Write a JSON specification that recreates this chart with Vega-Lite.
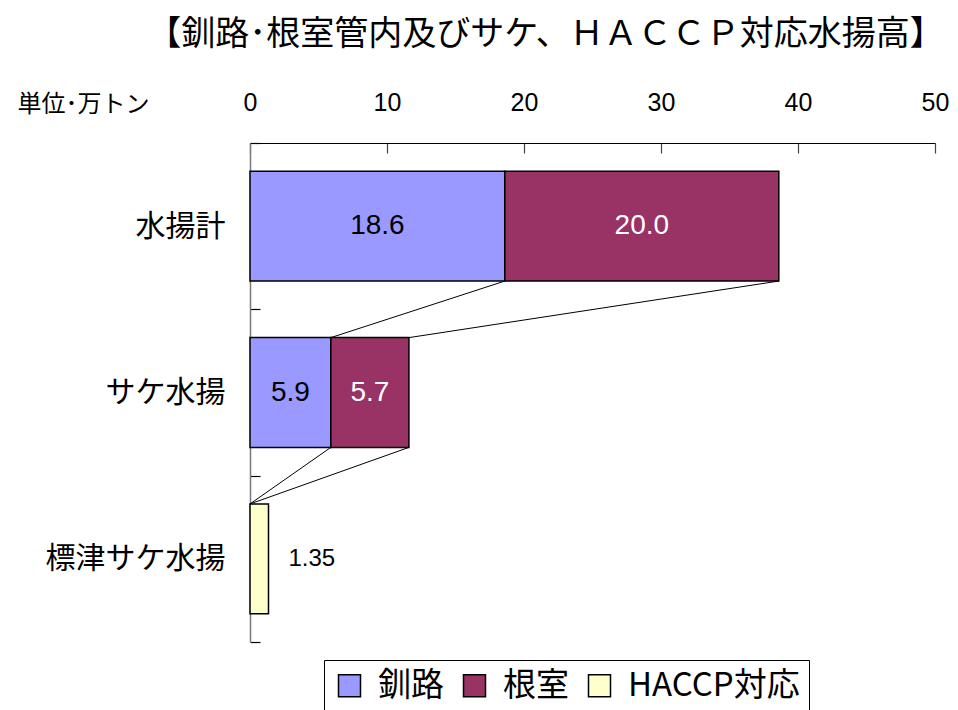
{
  "$schema": "https://vega.github.io/schema/vega-lite/v6.json",
  "width": 685,
  "height": 499,
  "autosize": "none",
  "padding": {"left": 250, "top": 143, "right": 23, "bottom": 68},
  "background": "white",
  "title": {
    "text": "【釧路･根室管内及びサケ、ＨＡＣＣＰ対応水揚高】",
    "font": "Noto Sans CJK JP",
    "fontSize": 34,
    "fontWeight": 400,
    "color": "black",
    "anchor": "middle",
    "dx": -47,
    "offset": 38
  },
  "config": {
    "view": {"stroke": null},
    "text": {"font": "Liberation Sans"}
  },
  "datasets": {
    "bars": [
      {"item": "水揚計", "area": "釧路", "value": 18.6},
      {"item": "水揚計", "area": "根室", "value": 20.0},
      {"item": "サケ水揚", "area": "釧路", "value": 5.9},
      {"item": "サケ水揚", "area": "根室", "value": 5.7},
      {"item": "標津サケ水揚", "area": "HACCP対応", "value": 1.35}
    ],
    "links": [
      {"from": "水揚計", "to": "サケ水揚", "start": 18.6, "end": 5.9},
      {"from": "水揚計", "to": "サケ水揚", "start": 38.6, "end": 11.6},
      {"from": "サケ水揚", "to": "標津サケ水揚", "start": 5.9, "end": 0},
      {"from": "サケ水揚", "to": "標津サケ水揚", "start": 11.6, "end": 0}
    ]
  },
  "layer": [
    {
      "data": {"name": "bars"},
      "mark": {"type": "bar", "height": {"band": 0.66}, "stroke": "black", "strokeWidth": 1.5},
      "encoding": {
        "y": {
          "field": "item",
          "type": "nominal",
          "sort": null,
          "scale": {"type": "band", "domain": ["水揚計", "サケ水揚", "標津サケ水揚"], "paddingInner": 0, "paddingOuter": 0},
          "axis": {
            "title": null,
            "orient": "left",
            "domainColor": "#7a7a7a",
            "domainWidth": 1.5,
            "tickBand": "extent",
            "tickSize": -10,
            "tickColor": "black",
            "tickWidth": 1.2,
            "labelFont": "Noto Sans CJK JP",
            "labelFontSize": 30,
            "labelColor": "black",
            "labelPadding": 35,
            "grid": false
          }
        },
        "x": {
          "field": "value",
          "type": "quantitative",
          "stack": "zero",
          "scale": {"domain": [0, 50], "nice": false},
          "axis": {
            "orient": "top",
            "values": [0, 10, 20, 30, 40, 50],
            "grid": false,
            "domainColor": "black",
            "domainWidth": 1.2,
            "tickSize": -10,
            "tickColor": "#444",
            "tickWidth": 1.2,
            "labelFont": "Liberation Sans",
            "labelFontSize": 25,
            "labelColor": "black",
            "labelPadding": 38,
            "labelFlush": false,
            "title": "単位･万トン",
            "titleFont": "Noto Sans CJK JP",
            "titleFontSize": 24,
            "titleFontWeight": "normal",
            "titleColor": "black",
            "titleAlign": "left",
            "titleBaseline": "middle",
            "titleAnchor": "start",
            "titleX": -233,
            "titleY": -39
          }
        },
        "order": {"field": "area", "sort": "descending"},
        "color": {
          "field": "area",
          "type": "nominal",
          "scale": {"domain": ["釧路", "根室", "HACCP対応"], "range": ["#9999FF", "#993366", "#FFFFCC"]},
          "legend": {
            "title": null,
            "orient": "none",
            "legendX": 74,
            "legendY": 517,
            "direction": "horizontal",
            "columns": 3,
            "strokeColor": "black",
            "fillColor": "white",
            "padding": 9,
            "symbolType": "square",
            "symbolSize": 484,
            "symbolStrokeColor": "black",
            "symbolStrokeWidth": 1.5,
            "symbolOpacity": 1,
            "labelFont": "Noto Sans CJK JP",
            "labelFontSize": 33,
            "labelColor": "black",
            "labelOffset": 12,
            "columnPadding": 14,
            "labelLimit": 400
          }
        }
      }
    },
    {
      "data": {"name": "bars"},
      "transform": [{"filter": "datum.area !== 'HACCP対応'"}],
      "mark": {"type": "text", "font": "Liberation Sans", "fontSize": 28, "align": "center", "baseline": "middle"},
      "encoding": {
        "y": {"field": "item", "type": "nominal", "sort": null},
        "x": {"field": "value", "type": "quantitative", "stack": "zero", "bandPosition": 0.5},
        "order": {"field": "area", "sort": "descending"},
        "text": {"field": "value", "type": "quantitative", "format": ".1f"},
        "color": {"condition": {"test": "datum.area === '根室'", "value": "white"}, "value": "black"}
      }
    },
    {
      "data": {"name": "bars"},
      "transform": [{"filter": "datum.area === 'HACCP対応'"}],
      "mark": {"type": "text", "font": "Liberation Sans", "fontSize": 24, "align": "left", "baseline": "middle", "dx": 20, "color": "black"},
      "encoding": {
        "y": {"field": "item", "type": "nominal", "sort": null},
        "x": {"field": "value", "type": "quantitative"},
        "text": {"field": "value", "type": "quantitative", "format": ".2f"}
      }
    },
    {
      "data": {"name": "links"},
      "mark": {"type": "rule", "color": "black", "strokeWidth": 1},
      "encoding": {
        "y": {"field": "from", "type": "nominal", "sort": null, "bandPosition": 0.83},
        "y2": {"field": "to", "bandPosition": 0.17},
        "x": {"field": "start", "type": "quantitative"},
        "x2": {"field": "end"}
      }
    }
  ]
}
